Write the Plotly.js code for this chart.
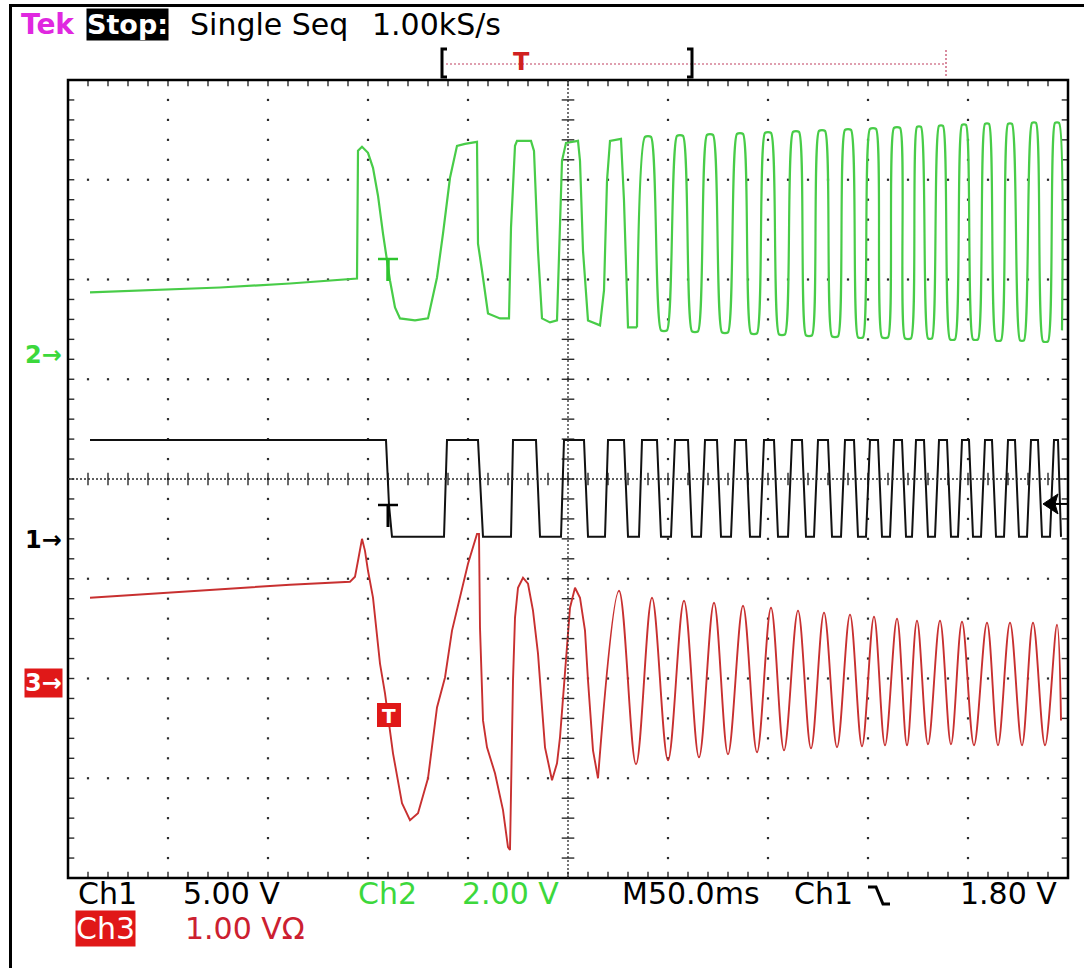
<!DOCTYPE html>
<html><head><meta charset="utf-8">
<script src="https://cdn.plot.ly/plotly-3.0.1.min.js"></script>
<style>html,body{margin:0;padding:0;background:#fff;overflow:hidden;}#wrap{position:relative;width:1084px;height:968px;overflow:hidden;}#chart{position:absolute;left:0;top:0;width:1084px;height:968px;}
#frameL{position:absolute;left:9px;top:4px;width:3px;height:964px;background:#000;}
#frameT{position:absolute;left:9px;top:4px;width:1075px;height:3px;background:#000;}</style>
</head><body><div id="wrap"><div id="chart"></div><div id="frameL"></div><div id="frameT"></div></div>
<script>
// ---- scope settings ----
const timePerDiv = 50;          // ms/div (M50.0ms)
const ch1Scale = 5, ch2Scale = 2, ch3Scale = 1;        // V/div
const ch1Offset = -0.61, ch2Offset = 1.24, ch3Offset = -2.05; // ground marker, divisions from centre
const trigLevel = 1.80;         // V on Ch1

// ---- Ch1 (black, square wave) time in ms, volts ----
const ch1_t = [11,159,160.5,162,
 188,189.5,205,207.5, 221.5,222.5,234,236, 246.5,248,258,260, 268.5,270,278,280,
 285.5,287,294.5,296.5, 301.5,303.5,310,312, 316.5,318.5,324.5,326.5, 331.5,333.5,339,341,
 346,348,353,355, 360,362,367,369, 373,375,380,382, 386.5,388.5,393,395,
 399,401,405,407, 411,413,417,419, 422,424,428,430, 433.5,435.5,439.5,441.5,
 445,447,450.5,452.5, 456.5,458.5,462,464, 468,470,473.5,475.5, 479.5,481.5,485,487,
 491,493,495,496.5];
const ch1_v = [5,5,1.75,0.15,
 0.15,5,5,0.15, 0.15,5,5,0.15, 0.15,5,5,0.15, 0.15,5,5,0.15,
 0.15,5,5,0.15, 0.15,5,5,0.15, 0.15,5,5,0.15, 0.15,5,5,0.15,
 0.15,5,5,0.15, 0.15,5,5,0.15, 0.15,5,5,0.15, 0.15,5,5,0.15,
 0.15,5,5,0.15, 0.15,5,5,0.15, 0.15,5,5,0.15, 0.15,5,5,0.15,
 0.15,5,5,0.15, 0.15,5,5,0.15, 0.15,5,5,0.15, 0.15,5,5,0.15,
 0.15,5,5,0.15];

// ---- Ch2 (green) part A: start-up ----
const ch2a_t = [11,41,76,111,144.5,145,147,150,152.5,155,157.5,161,163.5,166,173.5,180,184.5,187.5,191,194.5,198.5,204.5,
 205,207,210,216,220.5,221.5,223.5,224.5,231.5,233,235,237,241,244.5,245.5,247,249,255,256,257.5,260,266,268,269.5,271,276.5,278,280,284.5];
const ch2a_v = [1.26,1.30,1.36,1.44,1.54,4.10,4.18,4.06,3.76,3.20,2.44,1.50,0.96,0.74,0.70,0.74,1.56,2.44,3.56,4.20,4.24,4.28,
 2.24,1.70,0.84,0.74,0.74,2.56,4.20,4.30,4.30,4.10,2.10,0.74,0.66,0.70,2.10,3.90,4.26,4.30,3.90,2.10,0.70,0.60,1.30,3.50,4.30,4.34,3.10,0.56,0.56];
// ---- Ch2 part B: plateau edges of the steady oscillation ----
const ch2b_t = [284.5,
 288.5,291.5,296.5,299.5,304.5,307.5,312,315,319.5,322.5,327,330,334.5,337.5,341.5,344.5,348.5,351.5,355.5,358.5,
 362.5,365.5,369,372,375.5,378.5,382,385,388.5,391.5,395,397.5,401,404,407,410,413,416,418.5,421.5,
 424.5,426.5,430,432,435.5,437.5,441,443.5,447,449,452.5,455,458.5,460.5,464,466.5,470,472,476,478,
 482,484,487.5,490,493.5,495.5,497];
const ch2b_v = [0.56,
 4.38,4.38,0.50,0.50,4.40,4.40,0.48,0.48,4.42,4.42,0.46,0.46,4.44,4.44,0.44,0.44,4.46,4.46,0.42,0.42,
 4.48,4.48,0.40,0.40,4.50,4.50,0.38,0.38,4.52,4.52,0.36,0.36,4.54,4.54,0.36,0.36,4.56,4.56,0.34,0.34,
 4.58,4.58,0.34,0.34,4.60,4.60,0.32,0.32,4.62,4.62,0.32,0.32,4.64,4.64,0.30,0.30,4.64,4.64,0.30,0.30,
 4.66,4.66,0.28,0.28,4.66,4.66,0.50];

// ---- Ch3 (red) part A: start-up transient ----
const ch3a_t = [11,41,76,111,141,143.5,145,147,148.5,150,152.5,156,158.5,162.5,167,171,175,180,184.5,188.5,192,196,200,204.5,205.5,
 206,207.5,209.5,213.5,217.5,220,221,221.5,222.5,223.5,225,227.5,230,232.5,235,237,238.5,242,244.5,246,247.5,249.5,251,253.5,256,258.5,260,262.5,265];
const ch3a_v = [0.86,0.90,0.95,0.99,1.02,1.07,1.23,1.45,1.33,1.13,0.86,0.20,-0.10,-0.70,-1.20,-1.37,-1.30,-0.95,-0.24,0.06,0.53,0.86,1.20,1.50,1.50,
 0.56,-0.37,-0.64,-0.90,-1.27,-1.64,-1.67,-0.95,0.03,0.66,0.96,1.06,1.00,0.73,0.30,-0.24,-0.64,-0.97,-0.80,-0.54,-0.17,0.30,0.76,0.96,0.86,0.53,0.03,-0.67,-0.95];
// ---- Ch3 part B: peaks and troughs of the steady oscillation ----
const ch3b_t = [265,275.5,284,292,300,308,315.5,323,330,337.5,344.5,351.5,358,365,371.5,378,384.5,391,397,403,408.5,414.5,419.5,424.5,
 430,436,441.5,447,453,459.5,465,471,477,482.5,488.5,494.5,496.5];
const ch3b_v = [-0.95,0.93,-0.81,0.86,-0.77,0.83,-0.74,0.81,-0.71,0.78,-0.69,0.76,-0.67,0.73,-0.65,0.71,-0.64,0.69,-0.63,0.67,-0.62,0.65,-0.62,0.63,
 -0.61,0.63,-0.61,0.62,-0.62,0.61,-0.62,0.61,-0.62,0.61,-0.62,0.59,-0.37];

// ---- text ----
const headerTexts = ["Tek", "Stop:", "Single Seq", "1.00kS/s"];
const footer1 = ["Ch1", "5.00 V", "Ch2", "2.00 V", "M50.0ms", "Ch1", "1.80 V"];
const footer2 = ["Ch3", "1.00 VΩ"];

// ---- helpers (pixel -> paper) ----
const PX = x => (x - 68) / 1000;
const PY = y => (878 - y) / 798;
const range = (s, o) => [(-4 - o) * s, (4 - o) * s];
const GREEN = '#48cc48', GTXT = '#3cd83c', RED = '#c83030', RTXT = '#cc2030', DOT = '#2a2a2a';

// graticule
const gx = [], gy = [];
for (let i = 1; i <= 9; i++) { if (i === 5) continue; for (let k = 1; k < 40; k++) { gx.push(i * timePerDiv); gy.push(-4 + 0.2 * k); } }
for (let j = -3; j <= 3; j++) { if (j === 0) continue; for (let m = 1; m < 50; m++) { gx.push(m * timePerDiv / 5); gy.push(j); } }
const cvx = [], cvy = [], chx = [], chy = [];
for (let k = 1; k < 40; k++) { cvx.push(250); cvy.push(-4 + 0.2 * k); cvx.push(0); cvy.push(-4 + 0.2 * k); cvx.push(500); cvy.push(-4 + 0.2 * k); }
for (let m = 1; m < 50; m++) { chx.push(m * 10); chy.push(0); chx.push(m * 10); chy.push(4); chx.push(m * 10); chy.push(-4); }

const traces = [
  {x: gx, y: gy, type: 'scatter', mode: 'markers', marker: {symbol: 'square', size: 2.2, color: DOT}, hoverinfo: 'skip', xaxis: 'x', yaxis: 'y'},
  {x: cvx, y: cvy, type: 'scatter', mode: 'markers', marker: {symbol: 'line-ew', size: 9, line: {width: 1.4, color: DOT}}, hoverinfo: 'skip', cliponaxis: true},
  {x: chx, y: chy, type: 'scatter', mode: 'markers', marker: {symbol: 'line-ns', size: 9, line: {width: 1.4, color: DOT}}, hoverinfo: 'skip', cliponaxis: true},
  {x: ch2a_t, y: ch2a_v, type: 'scatter', mode: 'lines', line: {color: GREEN, width: 2.2}, yaxis: 'y3', name: 'Ch2'},
  {x: ch2b_t, y: ch2b_v, type: 'scatter', mode: 'lines', line: {color: GREEN, width: 2.2, shape: 'spline', smoothing: 0.6}, yaxis: 'y3', name: 'Ch2'},
  {x: ch1_t, y: ch1_v, type: 'scatter', mode: 'lines', line: {color: '#111', width: 2}, yaxis: 'y2', name: 'Ch1'},
  {x: ch3a_t, y: ch3a_v, type: 'scatter', mode: 'lines', line: {color: RED, width: 1.9}, yaxis: 'y4', name: 'Ch3'},
  {x: ch3b_t, y: ch3b_v, type: 'scatter', mode: 'lines', line: {color: RED, width: 1.9, shape: 'spline', smoothing: 1}, yaxis: 'y4', name: 'Ch3'}
];

const shapes = [
  {type: 'rect', xref: 'paper', yref: 'paper', x0: 0, x1: 1, y0: 0, y1: 1, line: {color: '#000', width: 2.5}},
  {type: 'line', xref: 'x', yref: 'y', x0: 250, x1: 250, y0: -4, y1: 4, line: {color: DOT, width: 1.3, dash: '2px,2px'}},
  {type: 'line', xref: 'x', yref: 'y', x0: 0, x1: 500, y0: 0, y1: 0, line: {color: DOT, width: 1.3, dash: '2px,2px'}},
  // record bar
  {type: 'line', xref: 'paper', yref: 'paper', x0: PX(446), x1: PX(946), y0: PY(64), y1: PY(64), line: {color: '#c04060', width: 1.2, dash: '2px,2px'}},
  {type: 'line', xref: 'paper', yref: 'paper', x0: PX(946), x1: PX(946), y0: PY(50), y1: PY(77), line: {color: '#c04060', width: 1.2, dash: '2px,2px'}},
  {type: 'path', xref: 'paper', yref: 'paper', path: `M ${PX(447)} ${PY(49)} L ${PX(442)} ${PY(49)} L ${PX(442)} ${PY(77)} L ${PX(447)} ${PY(77)}`, line: {color: '#000', width: 3}},
  {type: 'path', xref: 'paper', yref: 'paper', path: `M ${PX(687)} ${PY(49)} L ${PX(692)} ${PY(49)} L ${PX(692)} ${PY(77)} L ${PX(687)} ${PY(77)}`, line: {color: '#000', width: 3}},
  // trigger T markers
  {type: 'line', xref: 'paper', yref: 'paper', x0: PX(378), x1: PX(398), y0: PY(259), y1: PY(259), line: {color: '#2ec42e', width: 2.5}},
  {type: 'line', xref: 'paper', yref: 'paper', x0: PX(388), x1: PX(388), y0: PY(259), y1: PY(281), line: {color: '#2ec42e', width: 3.5}},
  {type: 'line', xref: 'paper', yref: 'paper', x0: PX(378), x1: PX(398), y0: PY(505), y1: PY(505), line: {color: '#000', width: 2.5}},
  {type: 'line', xref: 'paper', yref: 'paper', x0: PX(388), x1: PX(388), y0: PY(505), y1: PY(527), line: {color: '#000', width: 3}},
  {type: 'rect', xref: 'paper', yref: 'paper', x0: PX(377), x1: PX(401), y0: PY(703), y1: PY(727), fillcolor: '#e01818', line: {width: 0}},
  // trigger level arrow (Ch1, 1.80 V)
  {type: 'path', xref: 'paper', yref: 'y2', path: `M ${PX(1043)} ${trigLevel} L ${PX(1058)} ${trigLevel + 0.5} L ${PX(1055)} ${trigLevel} L ${PX(1058)} ${trigLevel - 0.5} Z`, fillcolor: '#000', line: {color: '#000', width: 1}},
  {type: 'line', xref: 'paper', yref: 'y2', x0: PX(1054), x1: 1, y0: trigLevel, y1: trigLevel, line: {color: '#000', width: 2}},
  // falling-edge symbol
  {type: 'path', xref: 'paper', yref: 'paper', path: `M ${PX(868)} ${PY(887)} L ${PX(876)} ${PY(887)} L ${PX(883)} ${PY(904)} L ${PX(890)} ${PY(904)}`, line: {color: '#000', width: 3}}
];

const F = 'DejaVu Sans';
const ann = (text, px, py, color, size, extra) => Object.assign({
  text: text, xref: 'paper', yref: 'paper', x: PX(px), y: PY(py), xanchor: 'left', yanchor: 'middle',
  showarrow: false, font: {family: F, size: size, color: color}
}, extra || {});

const annotations = [
  ann('<b>' + headerTexts[0] + '</b>', 19, 24, '#e028e0', 28),
  ann('<b>' + headerTexts[1] + '</b>', 86, 24, '#fff', 27, {bgcolor: '#000', borderpad: 0}),
  ann(headerTexts[2], 188, 24, '#000', 30),
  ann(headerTexts[3], 370, 24, '#000', 30),
  ann('T', 521, 62, '#d02020', 24, {xanchor: 'center', font: {family: F, size: 24, color: '#d02020', weight: 'bold'}}),
  ann('T', 389, 716, '#fff', 20, {xanchor: 'center', font: {family: F, size: 20, color: '#fff', weight: 'bold'}}),
  ann(footer1[0], 76, 893, '#000', 30),
  ann(footer1[1], 181, 893, '#000', 30),
  ann(footer1[2], 356, 893, GTXT, 30),
  ann(footer1[3], 460, 893, GTXT, 30),
  ann(footer1[4], 620, 893, '#000', 30),
  ann(footer1[5], 792, 893, '#000', 30),
  ann(footer1[6], 958, 893, '#000', 30),
  ann(footer2[0], 75, 929, '#fff', 30, {bgcolor: '#e01818', borderpad: 0}),
  ann(footer2[1], 183, 929, RTXT, 30),
  // channel ground markers
  {text: '<b>2→</b>', xref: 'paper', yref: 'y3', x: PX(64), y: 0, xanchor: 'right', yanchor: 'middle', showarrow: false, font: {family: F, size: 24, color: GTXT}},
  {text: '<b>1→</b>', xref: 'paper', yref: 'y2', x: PX(64), y: 0, xanchor: 'right', yanchor: 'middle', showarrow: false, font: {family: F, size: 24, color: '#000'}},
  {text: '<b>3→</b>', xref: 'paper', yref: 'y4', x: PX(63), y: 0, xanchor: 'right', yanchor: 'middle', showarrow: false, font: {family: F, size: 24, color: '#fff'}, bgcolor: '#e01818', borderpad: 0}
];

const layout = {
  width: 1084, height: 968, margin: {l: 68, r: 16, t: 80, b: 90},
  paper_bgcolor: '#fff', plot_bgcolor: '#fff', showlegend: false,
  xaxis: {range: [0, 10 * timePerDiv], visible: false, fixedrange: true},
  yaxis: {range: [-4, 4], visible: false, fixedrange: true},
  yaxis2: {range: range(ch1Scale, ch1Offset), overlaying: 'y', anchor: 'x', visible: false},
  yaxis3: {range: range(ch2Scale, ch2Offset), overlaying: 'y', anchor: 'x', visible: false},
  yaxis4: {range: range(ch3Scale, ch3Offset), overlaying: 'y', anchor: 'x', visible: false},
  shapes: shapes, annotations: annotations
};
Plotly.newPlot('chart', traces, layout, {staticPlot: true, displayModeBar: false});
</script></body></html>
